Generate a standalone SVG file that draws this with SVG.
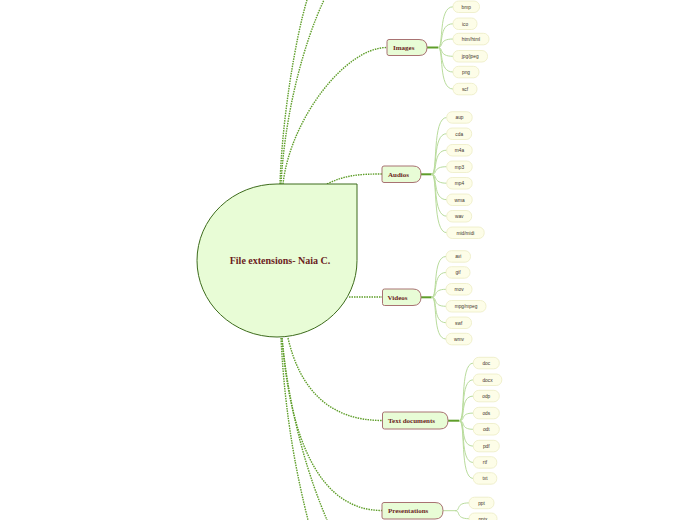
<svg xmlns="http://www.w3.org/2000/svg" width="696" height="520" viewBox="0 0 696 520">
<style>
.dot{fill:none;stroke:#5f9e2a;stroke-width:1.4;stroke-dasharray:1.5 1}
.hub{fill:none;stroke:#5f9e2a;stroke-width:2}
.lc{fill:none;stroke:#b9dc9c;stroke-width:1}
.br{fill:#e8fcd6;stroke:#a87272;stroke-width:1}
.bt{font-family:"Liberation Serif",serif;font-weight:bold;font-size:7px;fill:#6b1e1e}
.lf{fill:#fdfde8;stroke:#ececc4;stroke-width:0.8}
.lt{font-family:"Liberation Sans",sans-serif;font-size:4.8px;fill:#3f3428;text-anchor:middle}
</style>
<rect width="696" height="520" fill="#ffffff"/>
<g id="connectors">
<path class="dot" d="M280,184 C282,120 295,40 307,0"/>
<path class="dot" d="M281,184 C285,110 305,40 324,0"/>
<path class="dot" d="M283,184 C290,120 345,47.5 387,47.5"/>
<path class="dot" d="M327,184 C345,175 360,174 382,174"/>
<path class="dot" d="M349,297 L382,297"/>
<path class="dot" d="M288,338 C300,390 330,420.5 382,420.5"/>
<path class="dot" d="M282,338 C290,440 320,510.5 382,510.5"/>
<path class="dot" d="M281,338 C285,420 298,480 308,520"/>
<path class="dot" d="M282,338 C290,420 310,480 327,520"/>
<path class="hub" d="M427,47.5 H438"/>
<path class="hub" d="M421,174.3 H431.7"/>
<path class="hub" d="M421,297.3 H431.7"/>
<path class="hub" d="M448,420.7 H459.3"/>
<path class="lc" d="M443,510.7 H455"/>
<g>
<path class="lc" d="M438,47.5 C444,47.5 438,6.8 453,6.8"/>
<path class="lc" d="M438,47.5 C444,47.5 438,23.8 453,23.8"/>
<path class="lc" d="M438,47.5 C444,47.5 438,39 453,39"/>
<path class="lc" d="M438,47.5 C444,47.5 438,56.3 453,56.3"/>
<path class="lc" d="M438,47.5 C444,47.5 438,72 453,72"/>
<path class="lc" d="M438,47.5 C444,47.5 438,89 453,89"/>
</g>
<g>
<path class="lc" d="M431.7,174.3 C438,174.3 432,117.5 446.7,117.5"/>
<path class="lc" d="M431.7,174.3 C438,174.3 432,133.7 446.7,133.7"/>
<path class="lc" d="M431.7,174.3 C438,174.3 432,150.2 446.7,150.2"/>
<path class="lc" d="M431.7,174.3 C438,174.3 432,166.7 446.7,166.7"/>
<path class="lc" d="M431.7,174.3 C438,174.3 432,183.2 446.7,183.2"/>
<path class="lc" d="M431.7,174.3 C438,174.3 432,199.7 446.7,199.7"/>
<path class="lc" d="M431.7,174.3 C438,174.3 432,216.2 446.7,216.2"/>
<path class="lc" d="M431.7,174.3 C438,174.3 432,232.7 446.7,232.7"/>
</g>
<g>
<path class="lc" d="M431.7,297.3 C438,297.3 432,256.5 446,256.5"/>
<path class="lc" d="M431.7,297.3 C438,297.3 432,272.5 446,272.5"/>
<path class="lc" d="M431.7,297.3 C438,297.3 432,289.3 446,289.3"/>
<path class="lc" d="M431.7,297.3 C438,297.3 432,306.3 446,306.3"/>
<path class="lc" d="M431.7,297.3 C438,297.3 432,322.7 446,322.7"/>
<path class="lc" d="M431.7,297.3 C438,297.3 432,339 446,339"/>
</g>
<g>
<path class="lc" d="M459.3,420.7 C466,420.7 459.3,363.1 473.3,363.1"/>
<path class="lc" d="M459.3,420.7 C466,420.7 459.3,379.8 473.3,379.8"/>
<path class="lc" d="M459.3,420.7 C466,420.7 459.3,396.1 473.3,396.1"/>
<path class="lc" d="M459.3,420.7 C466,420.7 459.3,413.1 473.3,413.1"/>
<path class="lc" d="M459.3,420.7 C466,420.7 459.3,429.3 473.3,429.3"/>
<path class="lc" d="M459.3,420.7 C466,420.7 459.3,446.1 473.3,446.1"/>
<path class="lc" d="M459.3,420.7 C466,420.7 459.3,462.5 473.3,462.5"/>
<path class="lc" d="M459.3,420.7 C466,420.7 459.3,478.5 473.3,478.5"/>
</g>
<g>
<path class="lc" d="M455,510.7 C461,510.7 455,502.9 469,502.9"/>
<path class="lc" d="M455,510.7 C461,510.7 455,518.7 469,518.7"/>
</g>
</g>
<g id="center">
<path d="M277,184 H357 V260.5 A80,76.5 0 1 1 277,184 Z" fill="#e8fcd6" stroke="#3d6b1c" stroke-width="1"/>
<text x="280" y="264" text-anchor="middle" font-family="Liberation Serif,serif" font-weight="bold" font-size="10" fill="#6b1e1e">File extensions- Naia C.</text>
</g>
<g id="images">
<path class="br" d="M389,39.5 H419 Q427,39.5 427,47.5 Q427,55.5 419,55.5 H389 Q387,55.5 387,53.5 V41.5 Q387,39.5 389,39.5 Z"/>
<text class="bt" x="393" y="50">Images</text>
</g>
<g id="audios">
<path class="br" d="M384,166 H413 Q421,166 421,174 Q421,182.5 413,182.5 H384 Q382,182.5 382,180.5 V168 Q382,166 384,166 Z"/>
<text class="bt" x="388" y="176.8">Audios</text>
</g>
<g id="videos">
<path class="br" d="M384.5,289 H413 Q421,289 421,297.2 Q421,305.5 413,305.5 H384.5 Q382.5,305.5 382.5,303.5 V291 Q382.5,289 384.5,289 Z"/>
<text class="bt" x="387.5" y="299.8">Videos</text>
</g>
<g id="textdocuments">
<path class="br" d="M384.5,412 H440 Q448,412 448,420.5 Q448,429 440,429 H384.5 Q382.5,429 382.5,427 V414 Q382.5,412 384.5,412 Z"/>
<text class="bt" x="388" y="423.2">Text documents</text>
</g>
<g id="presentations">
<path class="br" d="M384,502.5 H435 Q443,502.5 443,510.7 Q443,519 435,519 H384 Q382,519 382,517 V504.5 Q382,502.5 384,502.5 Z"/>
<text class="bt" x="388" y="513.3">Presentations</text>
</g>
<g id="leaves-images">
<rect class="lf" x="453" y="1" width="26.5" height="11.5" rx="5.5"/><text class="lt" x="466.2" y="8.5">bmp</text>
<rect class="lf" x="453" y="18" width="24" height="11.5" rx="5.5"/><text class="lt" x="465" y="25.5">ico</text>
<rect class="lf" x="453" y="33.3" width="36" height="11.5" rx="5.5"/><text class="lt" x="471" y="40.8">htm/html</text>
<rect class="lf" x="453" y="50.5" width="34.5" height="11.5" rx="5.5"/><text class="lt" x="470.2" y="58">jpg/jpeg</text>
<rect class="lf" x="453" y="66.3" width="26" height="11.5" rx="5.5"/><text class="lt" x="466" y="73.8">png</text>
<rect class="lf" x="453" y="83.3" width="24" height="11.5" rx="5.5"/><text class="lt" x="465" y="90.8">scf</text>
</g>
<g id="leaves-audios">
<rect class="lf" x="446.7" y="111.7" width="25.5" height="11.5" rx="5.5"/><text class="lt" x="459.5" y="119.2">aup</text>
<rect class="lf" x="446.7" y="128" width="25" height="11.5" rx="5.5"/><text class="lt" x="459.2" y="135.5">cda</text>
<rect class="lf" x="446.7" y="144.5" width="25.5" height="11.5" rx="5.5"/><text class="lt" x="459.5" y="152">m4a</text>
<rect class="lf" x="446.7" y="161" width="25.5" height="11.5" rx="5.5"/><text class="lt" x="459.5" y="168.5">mp3</text>
<rect class="lf" x="446.7" y="177.5" width="25.5" height="11.5" rx="5.5"/><text class="lt" x="459.5" y="185">mp4</text>
<rect class="lf" x="446.7" y="194" width="25.5" height="11.5" rx="5.5"/><text class="lt" x="459.5" y="201.5">wma</text>
<rect class="lf" x="446.7" y="210.5" width="25" height="11.5" rx="5.5"/><text class="lt" x="459.2" y="218">wav</text>
<rect class="lf" x="446.7" y="227" width="37.5" height="11.5" rx="5.5"/><text class="lt" x="465.5" y="234.5">mid/midi</text>
</g>
<g id="leaves-videos">
<rect class="lf" x="446" y="250.7" width="24.5" height="11.5" rx="5.5"/><text class="lt" x="458.2" y="258.2">avi</text>
<rect class="lf" x="446" y="266.7" width="24" height="11.5" rx="5.5"/><text class="lt" x="458" y="274.2">gif</text>
<rect class="lf" x="446" y="283.5" width="26" height="11.5" rx="5.5"/><text class="lt" x="459" y="291">mov</text>
<rect class="lf" x="446" y="300.5" width="40" height="11.5" rx="5.5"/><text class="lt" x="466" y="308">mpg/mpeg</text>
<rect class="lf" x="446" y="317" width="25.5" height="11.5" rx="5.5"/><text class="lt" x="458.7" y="324.5">swf</text>
<rect class="lf" x="446" y="333.3" width="26" height="11.5" rx="5.5"/><text class="lt" x="459" y="340.8">wmv</text>
</g>
<g id="leaves-textdocuments">
<rect class="lf" x="473.3" y="357.3" width="26" height="11.5" rx="5.5"/><text class="lt" x="486.3" y="364.8">doc</text>
<rect class="lf" x="473.3" y="374" width="28.5" height="11.5" rx="5.5"/><text class="lt" x="487.5" y="381.5">docx</text>
<rect class="lf" x="473.3" y="390.3" width="26" height="11.5" rx="5.5"/><text class="lt" x="486.3" y="397.8">odp</text>
<rect class="lf" x="473.3" y="407.3" width="26" height="11.5" rx="5.5"/><text class="lt" x="486.3" y="414.8">ods</text>
<rect class="lf" x="473.3" y="423.5" width="26" height="11.5" rx="5.5"/><text class="lt" x="486.3" y="431">odt</text>
<rect class="lf" x="473.3" y="440.3" width="26" height="11.5" rx="5.5"/><text class="lt" x="486.3" y="447.8">pdf</text>
<rect class="lf" x="473.3" y="456.7" width="23.5" height="11.5" rx="5.5"/><text class="lt" x="485" y="464.2">rtf</text>
<rect class="lf" x="473.3" y="472.7" width="23.5" height="11.5" rx="5.5"/><text class="lt" x="485" y="480.2">txt</text>
</g>
<g id="leaves-presentations">
<rect class="lf" x="469" y="497.2" width="25" height="11.5" rx="5.5"/><text class="lt" x="481.5" y="504.7">ppt</text>
<rect class="lf" x="469" y="513" width="28" height="11.5" rx="5.5"/><text class="lt" x="483" y="520.5">pptx</text>
</g>
</svg>
